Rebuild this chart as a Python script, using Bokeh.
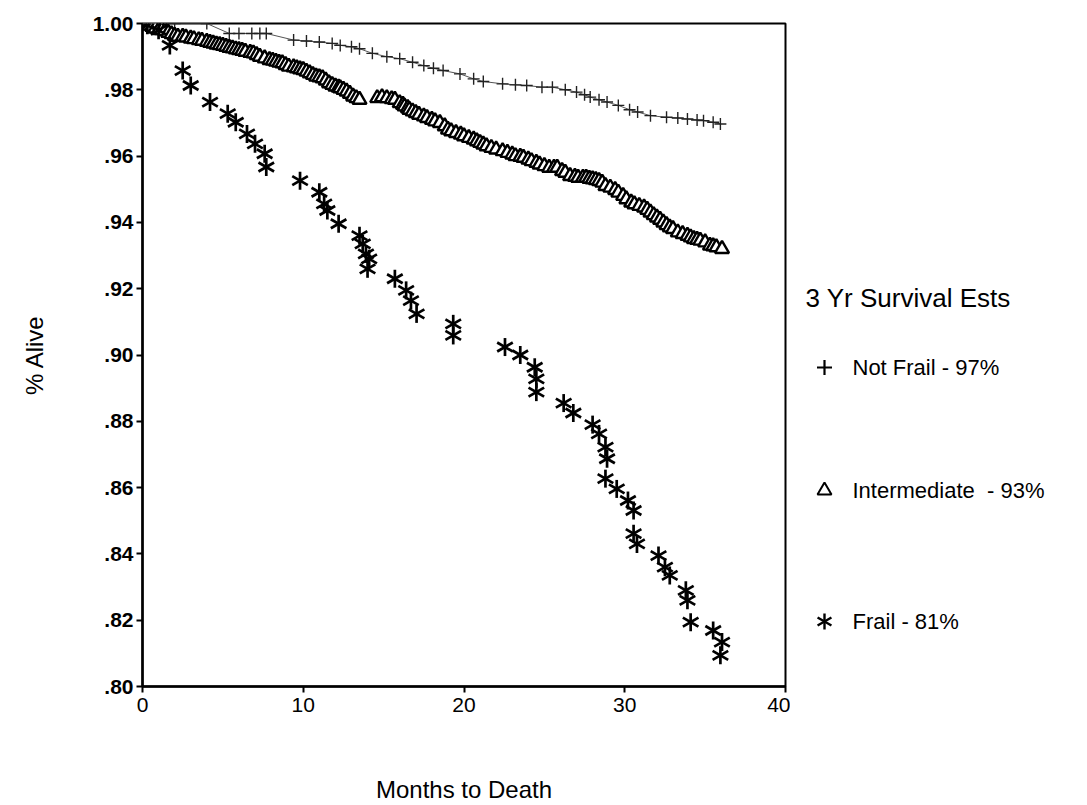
import math
from bokeh.plotting import figure
from bokeh.layouts import row
from bokeh.models import Range1d, FixedTicker, ColumnDataSource
from bokeh.core.properties import value
from bokeh.embed import file_html
from bokeh.resources import INLINE

# ---------------- data ----------------
month_ticks = [0, 10, 20, 30, 40]
surv_ticks = [0.80, 0.82, 0.84, 0.86, 0.88, 0.90, 0.92, 0.94, 0.96, 0.98, 1.00]
surv_tick_labels = [".80", ".82", ".84", ".86", ".88", ".90", ".92", ".94", ".96", ".98", "1.00"]

notfrail_months = [0.0, 2.0, 4.0, 5.4, 6.0, 6.8, 7.3, 7.7, 9.4, 10.2, 11.0, 11.8, 12.3, 13.0,
                   13.5, 14.3, 15.2, 16.0, 16.8, 17.5, 18.1, 18.7, 19.75, 20.6, 21.2, 22.4,
                   23.2, 23.9, 24.85, 25.5, 26.3, 27.0, 27.5, 27.85, 28.4, 28.9, 29.6, 30.3,
                   30.8, 31.6, 32.6, 33.3, 33.9, 34.5, 34.9, 35.5, 35.95]
notfrail_surv = [1.000, 1.000, 1.000, 0.997, 0.997, 0.997, 0.997, 0.997, 0.995, 0.9947, 0.9944,
                 0.994, 0.9934, 0.993, 0.9924, 0.991, 0.990, 0.9894, 0.9883, 0.9873, 0.9865,
                 0.9858, 0.9848, 0.9833, 0.9825, 0.9818, 0.9815, 0.9813, 0.9808, 0.9808, 0.980,
                 0.9793, 0.9785, 0.9778, 0.977, 0.9763, 0.9753, 0.974, 0.9733, 0.9722, 0.9717,
                 0.9715, 0.9712, 0.9709, 0.9707, 0.9702, 0.9697]

inter_months = [0.0, 0.2, 0.4, 0.6, 0.8, 1.0, 1.2, 1.4, 1.6, 1.8, 2.0, 2.2, 2.5, 2.7, 3.0, 3.2,
                3.5, 3.7, 4.0, 4.2, 4.4, 4.6, 4.8, 5.0, 5.2, 5.4, 5.6, 5.8, 6.0, 6.2, 6.4, 6.7,
                6.9, 7.1, 7.3, 7.6, 7.9, 8.1, 8.3, 8.5, 8.7, 8.9, 9.1, 9.4, 9.6, 9.8, 10.0,
                10.2, 10.4, 10.6, 10.8, 11.0, 11.2, 11.4, 11.6, 11.8, 12.0, 12.2, 12.3, 12.5,
                12.7, 12.9, 13.1, 13.3, 13.5,
                14.6, 14.9, 15.2, 15.5, 15.7, 16.0, 16.2, 16.3, 16.5, 16.6, 16.8, 17.0, 17.2,
                17.5, 17.7, 18.0, 18.2, 18.5, 18.8, 19.0, 19.2, 19.5, 19.8, 20.0, 20.3, 20.6,
                20.8, 21.0, 21.2, 21.4, 21.7, 22.0, 22.4, 22.7, 23.0, 23.2, 23.5, 23.7, 24.0,
                24.2, 24.5, 24.7, 25.0, 25.3, 25.6, 25.8, 26.1, 26.3, 26.6, 26.9, 27.1, 27.4,
                27.6, 27.8, 28.0, 28.2, 28.4, 28.6, 28.8, 29.1, 29.4, 29.6, 29.9, 30.1, 30.4,
                30.6, 30.9, 31.2, 31.4, 31.6, 31.8, 32.0, 32.2, 32.4, 32.6, 32.8, 33.0, 33.3,
                33.6, 33.9, 34.1, 34.3, 34.5, 34.7, 35.0, 35.3, 35.5, 35.7, 36.05]
inter_surv = [1.000, 0.9997, 0.9994, 0.999, 0.9985, 0.998, 0.998, 0.9978, 0.9972, 0.9968,
              0.9963, 0.996, 0.996, 0.9958, 0.9955, 0.9953, 0.995, 0.9948, 0.9945, 0.9942,
              0.994, 0.9937, 0.9935, 0.9933, 0.993, 0.9927, 0.9925, 0.9922, 0.992, 0.9918,
              0.9915, 0.9912, 0.991, 0.9905, 0.990, 0.9895, 0.989, 0.9888, 0.9885, 0.9882,
              0.988, 0.9875, 0.987, 0.9868, 0.9865, 0.9862, 0.986, 0.9855, 0.985, 0.9845,
              0.984, 0.9838, 0.9835, 0.9828, 0.982, 0.9815, 0.981, 0.9807, 0.9805, 0.980,
              0.9795, 0.9788, 0.978, 0.9775, 0.977,
              0.9775, 0.9778, 0.9775, 0.9772, 0.977, 0.976, 0.9755, 0.975, 0.9745, 0.974,
              0.9735, 0.973, 0.9725, 0.972, 0.9715, 0.971, 0.9705, 0.970, 0.969, 0.968,
              0.9675, 0.967, 0.9665, 0.966, 0.9655, 0.965, 0.9645, 0.964, 0.9635, 0.963,
              0.9625, 0.962, 0.9615, 0.961, 0.9605, 0.960, 0.9598, 0.9595, 0.959, 0.9585,
              0.958, 0.9575, 0.957, 0.9565, 0.9565, 0.9565, 0.9555, 0.955, 0.954, 0.9538,
              0.9535, 0.9535, 0.9535, 0.9532, 0.953, 0.9528, 0.9525, 0.952, 0.951, 0.9505,
              0.9498, 0.949, 0.948, 0.947, 0.946, 0.9455, 0.945, 0.9445, 0.9438, 0.943,
              0.9422, 0.9415, 0.9408, 0.940, 0.9392, 0.9385, 0.938, 0.937, 0.9365, 0.936,
              0.9355, 0.935, 0.9348, 0.9345, 0.934, 0.933, 0.9328, 0.9325, 0.932]

frail_months = [0.3, 1.0, 1.7, 2.5, 3.0, 4.2, 5.3, 5.8, 6.5, 7.0, 7.6, 7.7, 9.8, 11.0, 11.3,
                11.5, 12.2, 13.5, 13.7, 13.9, 14.1, 14.0, 15.7, 16.4, 16.7, 17.05, 19.33, 19.33,
                22.55, 23.5, 24.4, 24.5, 24.5, 26.2, 26.8, 28.0, 28.4, 28.8, 28.9, 28.8, 29.5,
                30.2, 30.55, 30.55, 30.76, 32.1, 32.5, 32.8, 33.8, 33.9, 34.1, 35.5, 36.05, 35.95]
frail_surv = [0.9995, 0.998, 0.9934, 0.9858, 0.9813, 0.9763, 0.9728, 0.9702, 0.9667, 0.9637,
              0.9607, 0.9567, 0.9526, 0.9491, 0.9456, 0.9436, 0.9396, 0.936, 0.9335, 0.9305,
              0.929, 0.926, 0.923, 0.9195, 0.9164, 0.9124, 0.9094, 0.9059, 0.9024, 0.900,
              0.8963, 0.8928, 0.8888, 0.8855, 0.8825, 0.879, 0.8762, 0.8722, 0.8687, 0.8627,
              0.8596, 0.8561, 0.8531, 0.8461, 0.843, 0.8395, 0.836, 0.8335, 0.829, 0.826,
              0.8194, 0.8169, 0.8134, 0.8094]

legend_title = "3 Yr Survival Ests"
legend_labels = ["Not Frail - 97%", "Intermediate\u00a0\u00a0- 93%", "Frail - 81%"]

FONT = "Liberation Sans"
MAIN_W = 790
LEG_W = 1087 - MAIN_W
H = 805
FRAME_TOP = 23
FRAME_BOTTOM = 686

# ---------------- main figure ----------------
p = figure(width=MAIN_W, height=H,
           x_range=Range1d(0, 40), y_range=Range1d(0.80, 1.00),
           output_backend="svg", toolbar_location=None,
           min_border_left=142, min_border_right=5,
           min_border_top=FRAME_TOP, min_border_bottom=H - FRAME_BOTTOM,
           background_fill_color="white", border_fill_color="white")
p.grid.visible = False
p.outline_line_color = "black"
p.outline_line_width = 2

p.xaxis.ticker = FixedTicker(ticks=month_ticks)
p.yaxis.ticker = FixedTicker(ticks=surv_ticks)
p.yaxis.major_label_overrides = dict(zip(surv_ticks, surv_tick_labels))
for ax in (p.xaxis[0], p.yaxis[0]):
    ax.axis_line_color = "black"
    ax.axis_line_width = 2.5
    ax.major_tick_line_color = "black"
    ax.major_tick_line_width = 2
    ax.major_tick_out = 6
    ax.major_tick_in = 0
    ax.minor_tick_out = 0
    ax.minor_tick_in = 0
    ax.major_label_text_font = FONT
    ax.major_label_text_color = "black"
    ax.axis_label_text_font = FONT
    ax.axis_label_text_font_style = "normal"
    ax.axis_label_text_color = "black"
    ax.axis_label_text_font_size = "24px"

p.yaxis.major_label_text_font_size = "21px"
p.yaxis.major_label_text_font_style = "bold"
p.yaxis.major_label_standoff = 3
p.yaxis.axis_label = "% Alive"
p.yaxis.axis_label_standoff = 42

p.xaxis.major_label_text_font_size = "21px"
p.xaxis.major_label_standoff = 5
p.xaxis.axis_label = "Months to Death"
p.xaxis.axis_label_standoff = 61

nf_src = ColumnDataSource(dict(x=notfrail_months, y=notfrail_surv))
it_src = ColumnDataSource(dict(x=inter_months, y=inter_surv))
fr_src = ColumnDataSource(dict(x=frail_months, y=frail_surv))

# Not frail: thin line with + marks
p.line("x", "y", source=nf_src, line_color="#555555", line_width=1.0)
p.scatter("x", "y", source=nf_src, marker="cross", size=12,
          line_color="#222222", line_width=1.4)

# Intermediate: open triangles
p.scatter("x", "y", source=it_src, marker="triangle", size=14,
          fill_color="white", line_color="black", line_width=2.4)

# Frail: six-spoke asterisks
SPOKES = (math.pi / 2, math.pi / 6, -math.pi / 6)
for ang in SPOKES:
    p.scatter("x", "y", source=fr_src, marker="dash", size=18, angle=ang,
              line_color="black", line_width=2.7)

# ---------------- legend panel (pixel coordinates; frame aligned with main plot) ----------------
lg = figure(width=LEG_W, height=H, x_range=Range1d(0, LEG_W),
            y_range=Range1d(FRAME_BOTTOM, FRAME_TOP),
            output_backend="svg", toolbar_location=None,
            x_axis_type=None, y_axis_type=None,
            min_border_left=0, min_border_right=0,
            min_border_top=FRAME_TOP, min_border_bottom=H - FRAME_BOTTOM,
            background_fill_color="white", border_fill_color="white")
lg.grid.visible = False
lg.outline_line_color = None

lg.text(x=[15], y=[297], text=[legend_title], text_font=value(FONT),
        text_font_size="26px", text_baseline="middle", text_align="left", text_color="black")

item_y = [367, 490, 621]
lg.text(x=[62, 62, 62], y=item_y, text=legend_labels, text_font=value(FONT),
        text_font_size="22px", text_baseline="middle", text_align="left", text_color="black")

lg.scatter(x=[34], y=[item_y[0]], marker="cross", size=15, line_color="black", line_width=2.2)
lg.scatter(x=[34], y=[item_y[1]], marker="triangle", size=14, fill_color="white",
           line_color="black", line_width=2)
for ang in SPOKES:
    lg.scatter(x=[34], y=[item_y[2]], marker="dash", size=16, angle=ang,
               line_color="black", line_width=2.4)

layout = row(p, lg, spacing=0)
open("out.html", "w").write(file_html(layout, INLINE))
